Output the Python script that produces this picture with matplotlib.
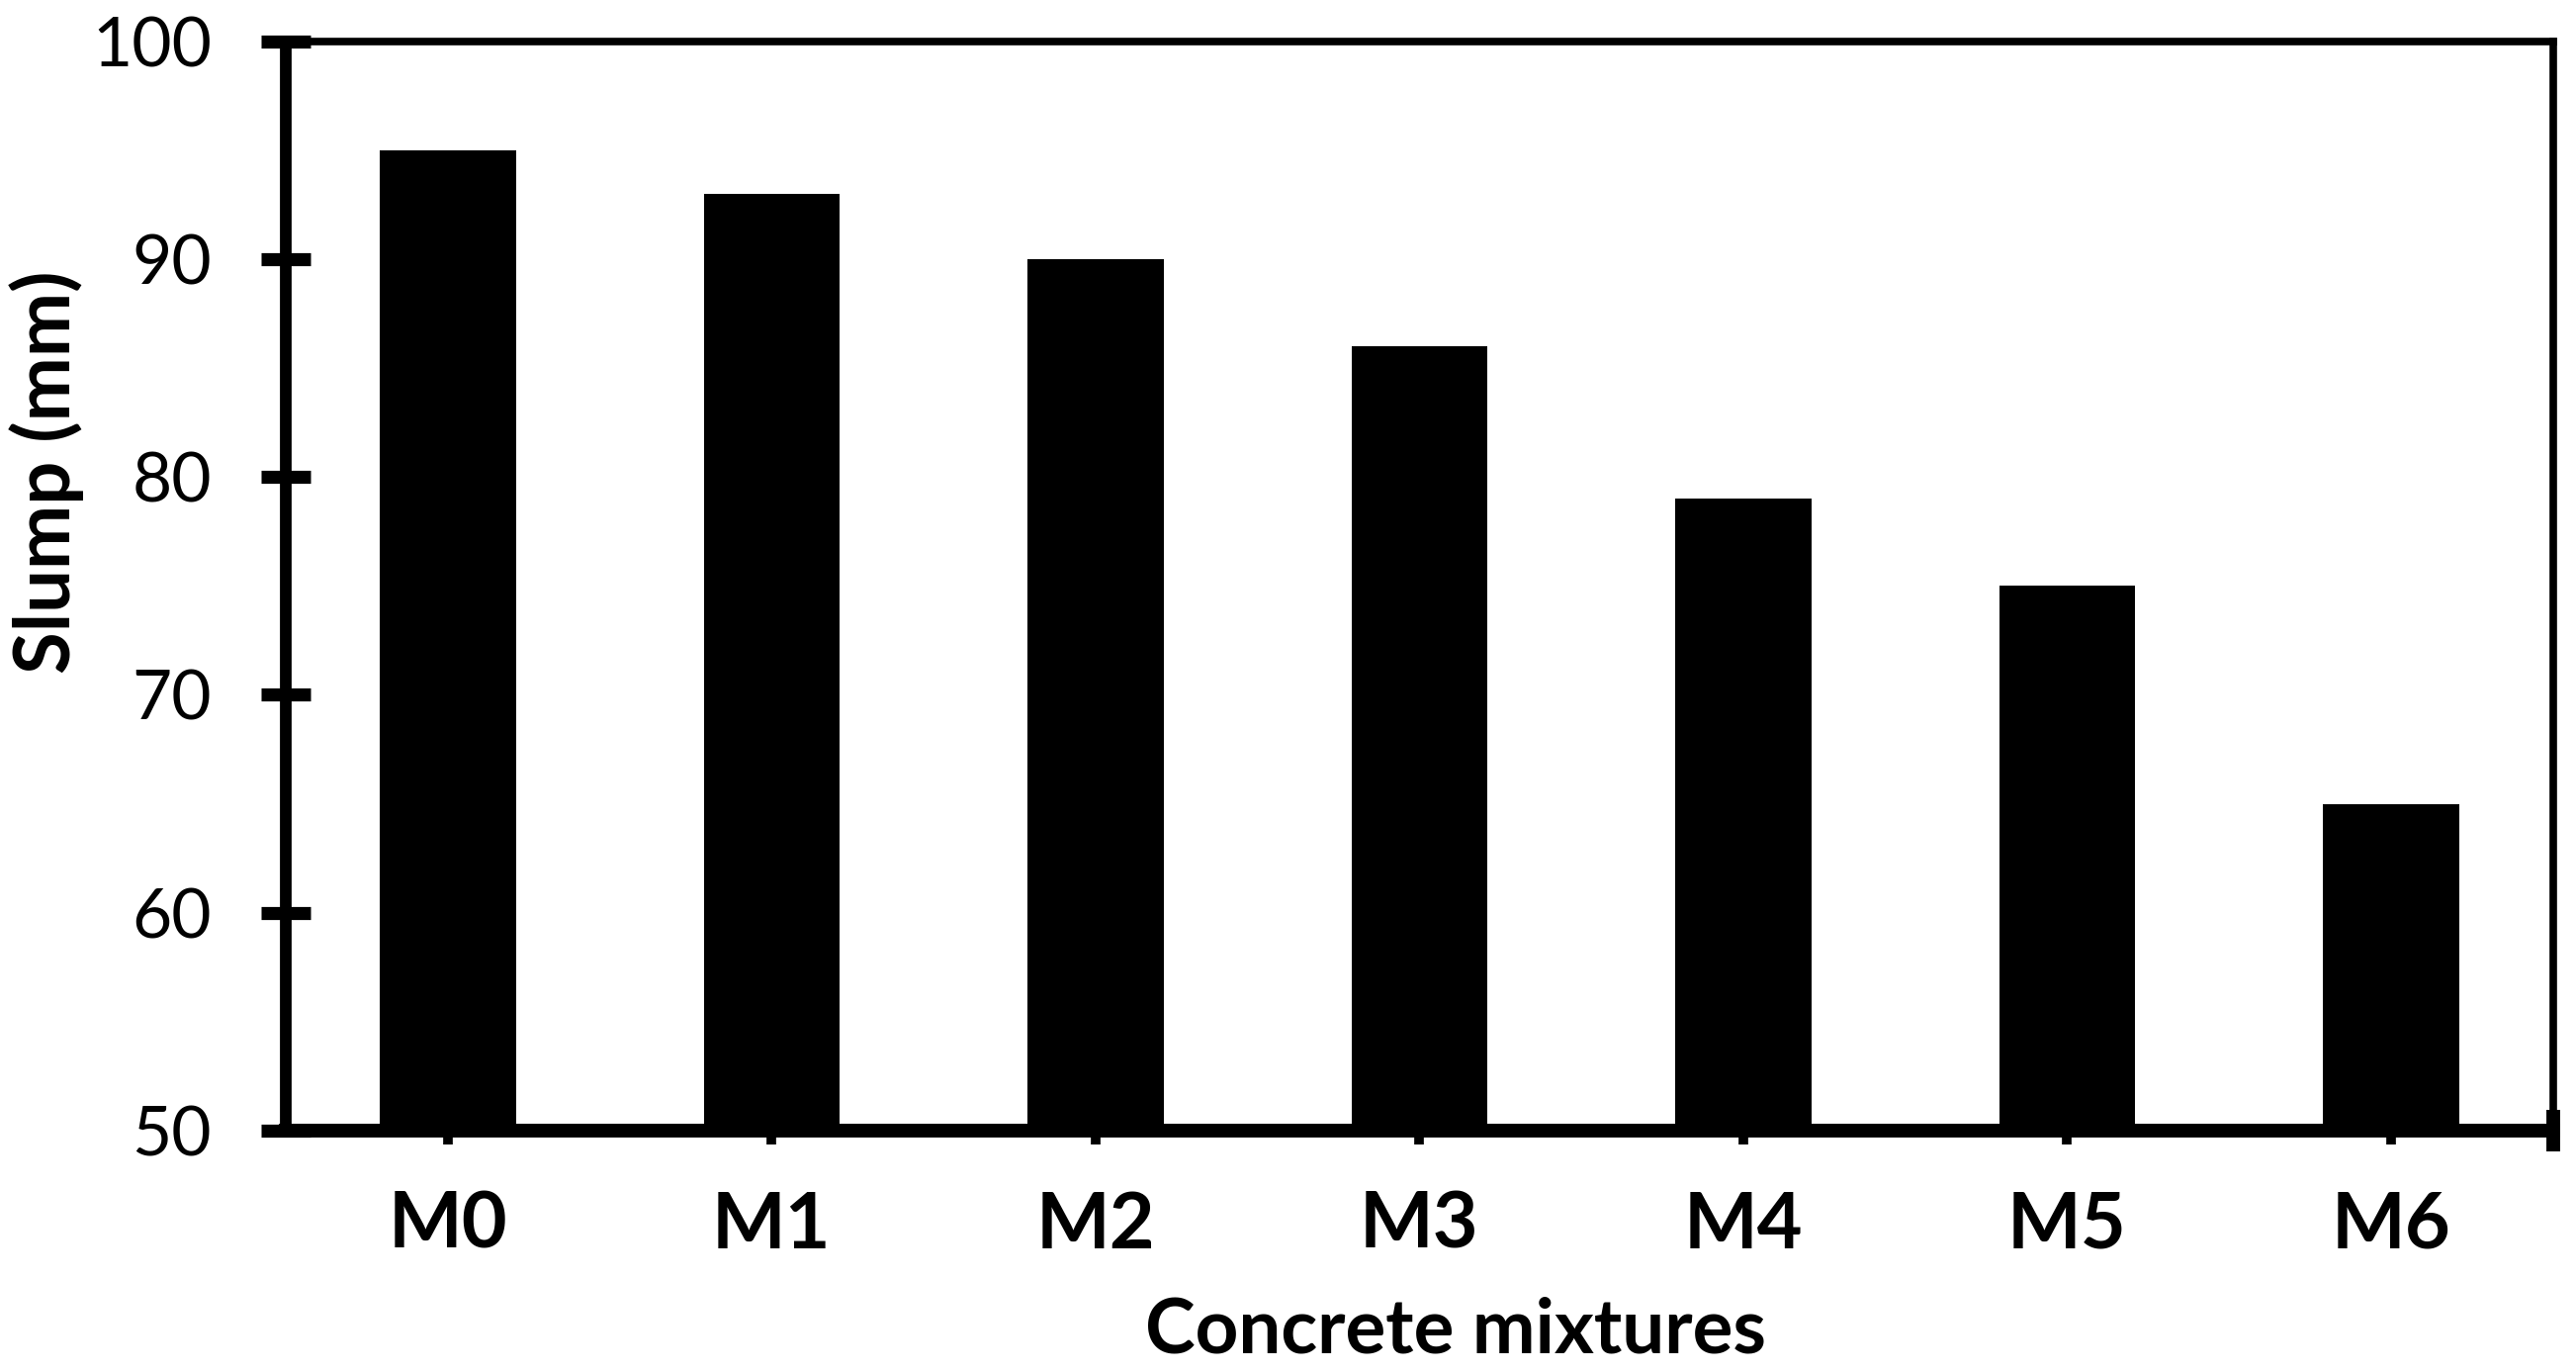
import matplotlib
matplotlib.use("Agg")
import matplotlib.pyplot as plt
from matplotlib.ticker import FixedLocator

# data
mixtures = ["M0", "M1", "M2", "M3", "M4", "M5", "M6"]
slump_mm = [95, 93, 90, 86, 79, 75, 65]
y_ticks = [50, 60, 70, 80, 90, 100]

plt.rcParams["font.family"] = ["Lato", "DejaVu Sans"]

fig = plt.figure(figsize=(26.05, 13.87), dpi=100)
ax = fig.add_axes([0.111, 0.176, 0.880, 0.794])

x = list(range(len(mixtures)))
ax.bar(x, slump_mm, width=0.42, color="black", bottom=0)

ax.set_xlim(-0.5, len(mixtures) - 0.5)
ax.set_ylim(50, 100)
ax.set_yticks(y_ticks)
ax.set_xticks(x)
ax.set_xticklabels(mixtures, fontsize=57, fontweight="bold")
ax.xaxis.set_minor_locator(FixedLocator([len(mixtures) - 0.5]))

for lbl in ax.get_yticklabels():
    lbl.set_fontsize(50)

ax.tick_params(axis="y", which="major", direction="inout", length=36, width=9.5, pad=36)
ax.tick_params(axis="x", which="major", direction="out", length=10, width=7, pad=34)
ax.tick_params(axis="x", which="minor", direction="inout", length=30, width=10)

ax.spines["left"].set_linewidth(8.5)
ax.spines["bottom"].set_linewidth(10)
ax.spines["top"].set_linewidth(5.5)
ax.spines["right"].set_linewidth(5.5)

ax.set_xlabel("Concrete mixtures", fontsize=55, fontweight="bold")
ax.xaxis.set_label_coords(0.516, -0.152)
ax.set_ylabel("Slump (mm)", fontsize=56, fontweight="bold")
ax.yaxis.set_label_coords(-0.089, 0.604)

fig.savefig("out.png", dpi=100)
plt.close(fig)
